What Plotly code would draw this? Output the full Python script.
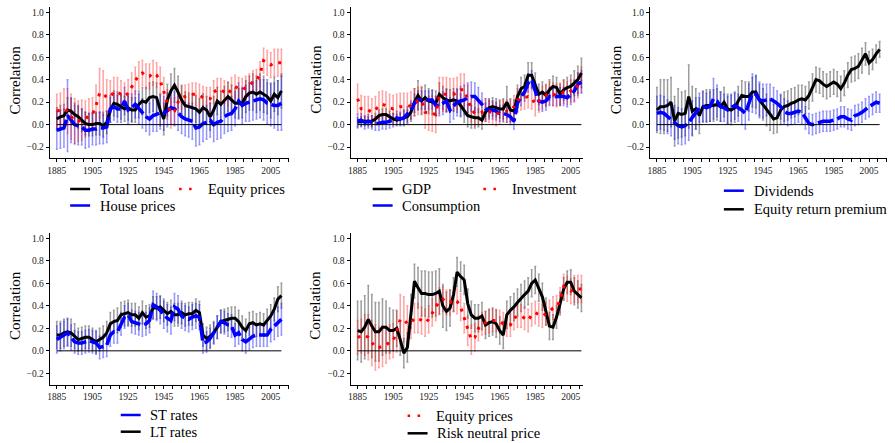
import plotly.graph_objects as go

# Rolling correlations, sampled every second year
YEARS = list(range(1885, 2012, 2))

TOTAL_LOANS = [0.05, 0.07, 0.08, 0.13, 0.12, 0.09, 0.07, 0.04, 0.01, 0.00, 0.00, 0.01, 0.01, -0.01, 0.02,
               0.13, 0.19, 0.18, 0.16, 0.14, 0.15, 0.13, 0.13, 0.18, 0.21, 0.20, 0.24, 0.25, 0.24, 0.13,
               0.05, 0.22, 0.30, 0.35, 0.29, 0.22, 0.17, 0.16, 0.15, 0.14, 0.11, 0.15, 0.13, 0.07, 0.13,
               0.21, 0.18, 0.22, 0.25, 0.22, 0.19, 0.19, 0.19, 0.25, 0.28, 0.29, 0.27, 0.29, 0.27, 0.25,
               0.21, 0.27, 0.24, 0.30]
TOTAL_LOANS_ERR = [0.10, 0.10, 0.10, 0.11, 0.11, 0.10, 0.10, 0.10, 0.10, 0.10, 0.10, 0.10, 0.10, 0.10, 0.10,
                   0.11, 0.11, 0.11, 0.11, 0.11, 0.11, 0.11, 0.11, 0.12, 0.12, 0.13, 0.13, 0.13, 0.13, 0.14,
                   0.14, 0.14, 0.15, 0.15, 0.14, 0.13, 0.12, 0.12, 0.12, 0.12, 0.12, 0.12, 0.12, 0.12, 0.12,
                   0.12, 0.12, 0.12, 0.13, 0.13, 0.13, 0.13, 0.13, 0.14, 0.15, 0.16, 0.16, 0.16, 0.16, 0.15,
                   0.15, 0.15, 0.15, 0.15]

EQUITY_PRICES = [0.12, 0.13, 0.14, 0.12, 0.07, 0.03, 0.03, 0.04, 0.05, 0.08, 0.09, 0.17, 0.28, 0.28, 0.24,
                 0.25, 0.29, 0.29, 0.27, 0.25, 0.28, 0.34, 0.39, 0.44, 0.46, 0.43, 0.43, 0.46, 0.44, 0.39,
                 0.29, 0.18, 0.10, 0.12, 0.20, 0.24, 0.25, 0.26, 0.27, 0.27, 0.26, 0.24, 0.23, 0.23, 0.29,
                 0.31, 0.31, 0.29, 0.27, 0.32, 0.34, 0.32, 0.31, 0.33, 0.35, 0.38, 0.39, 0.45, 0.57, 0.55,
                 0.53, 0.55, 0.55, 0.55]
EQUITY_PRICES_ERR = [0.15, 0.15, 0.18, 0.20, 0.20, 0.20, 0.18, 0.18, 0.16, 0.15, 0.15, 0.18, 0.22, 0.20, 0.16,
                     0.14, 0.13, 0.13, 0.12, 0.12, 0.12, 0.12, 0.12, 0.12, 0.11, 0.11, 0.11, 0.11, 0.11, 0.12,
                     0.13, 0.13, 0.13, 0.12, 0.11, 0.10, 0.10, 0.10, 0.10, 0.10, 0.10, 0.10, 0.10, 0.10, 0.10,
                     0.10, 0.10, 0.10, 0.10, 0.10, 0.10, 0.10, 0.10, 0.10, 0.10, 0.10, 0.10, 0.11, 0.11, 0.11,
                     0.11, 0.12, 0.12, 0.12]

HOUSE_PRICES = [-0.05, -0.04, -0.03, 0.08, 0.04, 0.00, -0.01, -0.02, -0.05, -0.05, -0.04, -0.04, -0.03, -0.03, -0.02,
                0.14, 0.16, 0.14, 0.14, 0.21, 0.13, 0.15, 0.18, 0.14, 0.10, 0.07, 0.05, 0.08, 0.09, 0.11,
                0.10, 0.13, 0.15, 0.14, 0.10, 0.07, 0.05, 0.04, 0.03, -0.03, -0.02, 0.01, 0.02, 0.04, 0.00,
                0.02, 0.03, 0.07, 0.09, 0.10, 0.14, 0.21, 0.17, 0.19, 0.20, 0.21, 0.22, 0.23, 0.22, 0.19,
                0.18, 0.17, 0.17, 0.19]
HOUSE_PRICES_ERR = [0.17, 0.17, 0.17, 0.32, 0.20, 0.17, 0.17, 0.16, 0.16, 0.15, 0.14, 0.14, 0.14, 0.14, 0.14,
                    0.12, 0.12, 0.12, 0.12, 0.12, 0.12, 0.12, 0.12, 0.13, 0.13, 0.13, 0.14, 0.14, 0.15, 0.15,
                    0.15, 0.15, 0.15, 0.15, 0.15, 0.15, 0.15, 0.15, 0.16, 0.16, 0.16, 0.16, 0.15, 0.15, 0.15,
                    0.15, 0.15, 0.15, 0.15, 0.15, 0.15, 0.16, 0.16, 0.16, 0.17, 0.17, 0.17, 0.17, 0.18, 0.18,
                    0.19, 0.20, 0.22, 0.24]

GDP = [0.02, 0.03, 0.03, 0.03, 0.03, 0.05, 0.08, 0.09, 0.09, 0.07, 0.05, 0.04, 0.05, 0.06, 0.07,
       0.11, 0.20, 0.26, 0.21, 0.24, 0.21, 0.20, 0.19, 0.27, 0.24, 0.22, 0.21, 0.22, 0.21, 0.17,
       0.12, 0.08, 0.07, 0.06, 0.06, 0.04, 0.11, 0.15, 0.16, 0.15, 0.14, 0.14, 0.20, 0.13, 0.12,
       0.25, 0.32, 0.34, 0.44, 0.44, 0.36, 0.27, 0.29, 0.26, 0.31, 0.34, 0.33, 0.27, 0.31, 0.33,
       0.34, 0.37, 0.40, 0.46]
GDP_ERR = [0.04, 0.04, 0.04, 0.04, 0.05, 0.05, 0.05, 0.05, 0.05, 0.05, 0.05, 0.05, 0.05, 0.06, 0.06,
           0.08, 0.12, 0.13, 0.12, 0.11, 0.11, 0.11, 0.11, 0.10, 0.10, 0.10, 0.10, 0.10, 0.10, 0.10,
           0.10, 0.10, 0.10, 0.09, 0.08, 0.08, 0.08, 0.08, 0.08, 0.08, 0.08, 0.09, 0.14, 0.10, 0.10,
           0.10, 0.10, 0.10, 0.11, 0.11, 0.10, 0.09, 0.09, 0.09, 0.09, 0.09, 0.09, 0.09, 0.09, 0.09,
           0.10, 0.11, 0.12, 0.13]

CONSUMPTION = [0.03, 0.04, 0.02, 0.03, 0.02, 0.01, 0.01, 0.02, 0.02, 0.03, 0.04, 0.06, 0.05, 0.06, 0.09,
               0.13, 0.19, 0.22, 0.22, 0.22, 0.22, 0.22, 0.17, 0.17, 0.19, 0.21, 0.13, 0.17, 0.20, 0.21,
               0.22, 0.24, 0.25, 0.25, 0.22, 0.18, 0.14, 0.13, 0.13, 0.12, 0.10, 0.10, 0.09, 0.07, 0.03,
               0.19, 0.25, 0.29, 0.37, 0.40, 0.30, 0.21, 0.20, 0.21, 0.25, 0.25, 0.25, 0.25, 0.25, 0.24,
               0.27, 0.30, 0.36, 0.38]
CONSUMPTION_ERR = [0.06, 0.06, 0.06, 0.06, 0.06, 0.06, 0.06, 0.06, 0.06, 0.06, 0.06, 0.06, 0.06, 0.07, 0.07,
                   0.08, 0.08, 0.08, 0.08, 0.08, 0.08, 0.08, 0.08, 0.09, 0.10, 0.10, 0.11, 0.12, 0.12, 0.13,
                   0.13, 0.13, 0.13, 0.12, 0.11, 0.10, 0.09, 0.08, 0.08, 0.08, 0.07, 0.07, 0.07, 0.07, 0.07,
                   0.08, 0.08, 0.08, 0.08, 0.08, 0.08, 0.08, 0.08, 0.08, 0.08, 0.08, 0.08, 0.08, 0.08, 0.08,
                   0.09, 0.09, 0.10, 0.10]

INVESTMENT = [0.23, 0.14, 0.13, 0.13, 0.11, 0.13, 0.17, 0.18, 0.17, 0.15, 0.14, 0.15, 0.16, 0.16, 0.16,
              0.17, 0.20, 0.21, 0.22, 0.11, 0.10, 0.10, 0.09, 0.26, 0.27, 0.27, 0.27, 0.27, 0.28, 0.31,
              0.31, 0.22, 0.14, 0.10, 0.10, 0.11, 0.13, 0.12, 0.10, 0.09, 0.11, 0.12, 0.12, 0.12, 0.16,
              0.22, 0.23, 0.24, 0.25, 0.24, 0.18, 0.21, 0.24, 0.26, 0.28, 0.27, 0.26, 0.27, 0.29, 0.28,
              0.30, 0.30, 0.35, 0.40]
INVESTMENT_ERR = [0.13, 0.12, 0.12, 0.12, 0.12, 0.12, 0.12, 0.12, 0.12, 0.12, 0.12, 0.12, 0.12, 0.12, 0.12,
                  0.12, 0.12, 0.12, 0.12, 0.14, 0.15, 0.16, 0.16, 0.16, 0.15, 0.15, 0.14, 0.14, 0.14, 0.14,
                  0.14, 0.13, 0.12, 0.11, 0.10, 0.10, 0.10, 0.10, 0.10, 0.10, 0.10, 0.10, 0.10, 0.10, 0.10,
                  0.10, 0.10, 0.10, 0.10, 0.10, 0.10, 0.10, 0.10, 0.10, 0.10, 0.10, 0.10, 0.10, 0.10, 0.10,
                  0.10, 0.10, 0.11, 0.11]

DIVIDENDS = [0.10, 0.11, 0.10, 0.07, 0.05, 0.02, -0.01, -0.02, -0.01, 0.02, 0.06, 0.10, 0.15, 0.16, 0.15,
             0.16, 0.23, 0.21, 0.16, 0.15, 0.13, 0.15, 0.17, 0.15, 0.13, 0.10, 0.20, 0.28, 0.27, 0.22,
             0.21, 0.22, 0.23, 0.21, 0.19, 0.16, 0.12, 0.10, 0.10, 0.11, 0.12, 0.11, 0.06, 0.01, 0.00,
             0.01, 0.02, 0.03, 0.03, 0.03, 0.04, 0.05, 0.07, 0.07, 0.05, 0.04, 0.08, 0.09, 0.11, 0.14,
             0.16, 0.18, 0.20, 0.19]
DIVIDENDS_ERR = [0.15, 0.15, 0.15, 0.15, 0.15, 0.15, 0.16, 0.16, 0.16, 0.16, 0.15, 0.14, 0.13, 0.13, 0.13,
                 0.13, 0.18, 0.14, 0.13, 0.12, 0.12, 0.12, 0.12, 0.12, 0.13, 0.14, 0.16, 0.17, 0.17, 0.16,
                 0.15, 0.14, 0.13, 0.12, 0.11, 0.11, 0.11, 0.11, 0.10, 0.10, 0.10, 0.10, 0.10, 0.09, 0.09,
                 0.09, 0.09, 0.09, 0.09, 0.09, 0.09, 0.09, 0.09, 0.09, 0.09, 0.09, 0.09, 0.09, 0.09, 0.09,
                 0.09, 0.09, 0.09, 0.08]

EQUITY_PREMIUM = [0.13, 0.16, 0.16, 0.17, 0.20, 0.03, 0.10, 0.09, 0.10, 0.25, 0.12, 0.14, 0.08, 0.16, 0.17,
                  0.17, 0.17, 0.18, 0.16, 0.20, 0.14, 0.13, 0.15, 0.21, 0.26, 0.25, 0.25, 0.29, 0.29, 0.22,
                  0.18, 0.13, 0.09, 0.05, 0.06, 0.13, 0.16, 0.17, 0.19, 0.20, 0.22, 0.23, 0.22, 0.26, 0.33,
                  0.40, 0.39, 0.36, 0.34, 0.36, 0.38, 0.36, 0.32, 0.37, 0.44, 0.49, 0.50, 0.52, 0.57, 0.63,
                  0.55, 0.58, 0.63, 0.67]
EQUITY_PREMIUM_ERR = [0.20, 0.24, 0.24, 0.23, 0.22, 0.22, 0.22, 0.20, 0.20, 0.28, 0.22, 0.18, 0.16, 0.14, 0.14,
                      0.14, 0.14, 0.14, 0.13, 0.13, 0.13, 0.13, 0.13, 0.13, 0.13, 0.13, 0.13, 0.13, 0.14, 0.14,
                      0.14, 0.14, 0.14, 0.13, 0.13, 0.13, 0.13, 0.13, 0.13, 0.13, 0.13, 0.12, 0.12, 0.12, 0.12,
                      0.11, 0.11, 0.11, 0.11, 0.11, 0.11, 0.11, 0.11, 0.11, 0.11, 0.11, 0.11, 0.11, 0.11, 0.10,
                      0.10, 0.09, 0.08, 0.07]

ST_RATES = [0.10, 0.12, 0.14, 0.16, 0.12, 0.08, 0.07, 0.07, 0.08, 0.09, 0.08, 0.07, 0.03, 0.04, 0.05,
            0.14, 0.17, 0.17, 0.24, 0.30, 0.32, 0.26, 0.25, 0.24, 0.23, 0.24, 0.27, 0.41, 0.39, 0.36,
            0.32, 0.29, 0.27, 0.39, 0.37, 0.31, 0.29, 0.28, 0.30, 0.31, 0.30, 0.07, 0.08, 0.11, 0.16,
            0.21, 0.26, 0.25, 0.23, 0.22, 0.14, 0.16, 0.10, 0.08, 0.11, 0.13, 0.14, 0.14, 0.14, 0.14,
            0.19, 0.22, 0.26, 0.28]
ST_RATES_ERR = [0.12, 0.12, 0.12, 0.12, 0.11, 0.10, 0.10, 0.10, 0.10, 0.10, 0.10, 0.10, 0.10, 0.10, 0.10,
                0.10, 0.10, 0.10, 0.10, 0.10, 0.10, 0.10, 0.10, 0.10, 0.10, 0.10, 0.11, 0.12, 0.12, 0.12,
                0.12, 0.12, 0.12, 0.12, 0.12, 0.11, 0.11, 0.11, 0.11, 0.11, 0.11, 0.09, 0.09, 0.09, 0.09,
                0.10, 0.10, 0.10, 0.10, 0.10, 0.10, 0.10, 0.10, 0.10, 0.10, 0.10, 0.10, 0.10, 0.10, 0.10,
                0.11, 0.12, 0.13, 0.14]

LT_RATES = [0.14, 0.14, 0.16, 0.17, 0.16, 0.13, 0.10, 0.11, 0.12, 0.12, 0.10, 0.08, 0.10, 0.12, 0.16,
            0.24, 0.26, 0.27, 0.32, 0.33, 0.34, 0.32, 0.32, 0.29, 0.34, 0.30, 0.31, 0.38, 0.38, 0.39,
            0.36, 0.33, 0.35, 0.32, 0.32, 0.34, 0.32, 0.33, 0.33, 0.36, 0.34, 0.14, 0.11, 0.13, 0.16,
            0.21, 0.26, 0.27, 0.28, 0.29, 0.29, 0.26, 0.21, 0.18, 0.24, 0.25, 0.23, 0.24, 0.23, 0.27,
            0.31, 0.37, 0.46, 0.49]
LT_RATES_ERR = [0.12, 0.12, 0.12, 0.12, 0.12, 0.11, 0.10, 0.10, 0.10, 0.10, 0.10, 0.10, 0.10, 0.10, 0.10,
                0.10, 0.10, 0.11, 0.11, 0.11, 0.11, 0.10, 0.10, 0.10, 0.10, 0.10, 0.10, 0.10, 0.10, 0.10,
                0.10, 0.10, 0.10, 0.10, 0.10, 0.10, 0.10, 0.10, 0.10, 0.10, 0.10, 0.10, 0.10, 0.10, 0.10,
                0.10, 0.10, 0.10, 0.10, 0.10, 0.10, 0.10, 0.10, 0.10, 0.10, 0.10, 0.10, 0.10, 0.10, 0.10,
                0.10, 0.10, 0.11, 0.11]

RISK_NEUTRAL = [0.18, 0.17, 0.21, 0.28, 0.22, 0.17, 0.17, 0.21, 0.21, 0.18, 0.18, 0.20, 0.10, -0.02, 0.03,
                0.35, 0.62, 0.56, 0.51, 0.51, 0.50, 0.50, 0.51, 0.53, 0.40, 0.35, 0.38, 0.50, 0.70, 0.66,
                0.63, 0.42, 0.32, 0.29, 0.29, 0.31, 0.23, 0.25, 0.26, 0.24, 0.18, 0.14, 0.32, 0.36, 0.39,
                0.43, 0.47, 0.50, 0.53, 0.60, 0.63, 0.56, 0.48, 0.35, 0.22, 0.21, 0.30, 0.42, 0.55, 0.61,
                0.61, 0.53, 0.50, 0.47]
RISK_NEUTRAL_ERR = [0.26, 0.27, 0.28, 0.30, 0.28, 0.26, 0.26, 0.25, 0.23, 0.20, 0.18, 0.16, 0.14, 0.13, 0.13,
                    0.15, 0.15, 0.18, 0.20, 0.20, 0.20, 0.20, 0.20, 0.20, 0.19, 0.17, 0.16, 0.15, 0.13, 0.13,
                    0.13, 0.13, 0.12, 0.12, 0.12, 0.12, 0.12, 0.12, 0.12, 0.12, 0.12, 0.12, 0.12, 0.12, 0.12,
                    0.12, 0.12, 0.12, 0.12, 0.12, 0.12, 0.12, 0.12, 0.12, 0.12, 0.11, 0.10, 0.10, 0.10, 0.10,
                    0.11, 0.12, 0.12, 0.12]

FONT = "Liberation Serif"
W, H = 895, 443

LINE_STYLE = {
    "black": dict(color="#000000", width=3),
    "blue": dict(color="#0000ff", width=3.5, dash="16px,4px"),
    "red": dict(color="#ff0000", width=3, dash="3px,6px"),
}
KEY_STYLE = {
    "black": dict(color="#000000", width=2.5),
    "blue": dict(color="#0000ff", width=2.5),
    "red": dict(color="#ff0000", width=2.5, dash="2.5px,7.5px"),
}
ERR_COLOR = {
    "black": "rgba(60,60,60,0.5)",
    "blue": "rgba(0,0,255,0.42)",
    "red": "rgba(255,0,0,0.36)",
}

# panel geometry in pixels: x extent of the axis, y extent, last year of x range / last tick
PANELS = [
    dict(n=1, xpx=(47.8, 287.2), ypx=(6.7, 158.3), xmax=2015, tickmax=2015,
         series=[("Total loans", TOTAL_LOANS, TOTAL_LOANS_ERR, "black"),
                 ("House prices", HOUSE_PRICES, HOUSE_PRICES_ERR, "blue"),
                 ("Equity prices", EQUITY_PRICES, EQUITY_PRICES_ERR, "red")],
         legend=[("Total loans", "black", 68.3, 189.0), ("Equity prices", "red", 177.5, 189.0),
                 ("House prices", "blue", 68.3, 205.5)],
         ytitle=(13, 79.5)),
    dict(n=2, xpx=(349.3, 582.5), ypx=(6.7, 158.3), xmax=2012, tickmax=2010,
         series=[("GDP", GDP, GDP_ERR, "black"),
                 ("Consumption", CONSUMPTION, CONSUMPTION_ERR, "blue"),
                 ("Investment", INVESTMENT, INVESTMENT_ERR, "red")],
         legend=[("GDP", "black", 371.5, 189.0), ("Investment", "red", 482.5, 189.0),
                 ("Consumption", "blue", 371.5, 205.5)],
         ytitle=(314, 79.5)),
    dict(n=3, xpx=(649.3, 886.7), ypx=(6.7, 158.3), xmax=2015, tickmax=2015,
         series=[("Equity return premium", EQUITY_PREMIUM, EQUITY_PREMIUM_ERR, "black"),
                 ("Dividends", DIVIDENDS, DIVIDENDS_ERR, "blue")],
         legend=[("Dividends", "blue", 723.5, 190.7), ("Equity return premium", "black", 723.5, 209.3)],
         ytitle=(615, 79.5)),
    dict(n=4, xpx=(47.8, 287.2), ypx=(232.7, 384.6), xmax=2015, tickmax=2015,
         series=[("LT rates", LT_RATES, LT_RATES_ERR, "black"),
                 ("ST rates", ST_RATES, ST_RATES_ERR, "blue")],
         legend=[("ST rates", "blue", 119.0, 415), ("LT rates", "black", 119.0, 431.7)],
         ytitle=(13, 305)),
    dict(n=5, xpx=(349.3, 582.5), ypx=(232.7, 384.6), xmax=2012, tickmax=2010,
         series=[("Risk neutral price", RISK_NEUTRAL, RISK_NEUTRAL_ERR, "black"),
                 ("Equity prices", EQUITY_PRICES, EQUITY_PRICES_ERR, "red")],
         legend=[("Equity prices", "red", 406.5, 415.7), ("Risk neutral price", "black", 406.5, 433.3)],
         ytitle=(313.5, 305)),
]

for p in PANELS:
    for _, vals, errs, _ in p["series"]:
        assert len(vals) == len(YEARS) and len(errs) == len(YEARS)

fig = go.Figure()
layout = dict(width=W, height=H, margin=dict(l=0, r=0, t=0, b=0), autosize=False,
              paper_bgcolor="white", plot_bgcolor="white", showlegend=False,
              font=dict(family=FONT, color="#000000"))
shapes, annotations = [], []

YTICKS = [-0.2, 0.0, 0.2, 0.4, 0.6, 0.8, 1.0]
YTICKTEXT = ["\u22120.2", "0.0", "0.2", "0.4", "0.6", "0.8", "1.0"]


def px_x(x):
    return x / W


def px_y(y):
    return 1 - y / H


for p in PANELS:
    n = p["n"]
    xa, ya = ("x" if n == 1 else f"x{n}"), ("y" if n == 1 else f"y{n}")
    xkey, ykey = ("xaxis" if n == 1 else f"xaxis{n}"), ("yaxis" if n == 1 else f"yaxis{n}")
    xt = list(range(1885, p["tickmax"] + 1, 5))
    layout[xkey] = dict(
        domain=[px_x(p["xpx"][0]), px_x(p["xpx"][1])], range=[1881, p["xmax"]], anchor=ya,
        showline=True, linecolor="#000000", linewidth=1, showgrid=False, zeroline=False,
        ticks="outside", ticklen=3, tickwidth=1, tickcolor="#000000",
        tickvals=xt, ticktext=[str(t) if (t - 1885) % 20 == 0 else "" for t in xt],
        tickfont=dict(family=FONT, size=9.5, color="#222222"), fixedrange=True)
    layout[ykey] = dict(
        domain=[px_y(p["ypx"][1]), px_y(p["ypx"][0])], range=[-0.3, 1.05], anchor=xa,
        showline=True, linecolor="#000000", linewidth=1, showgrid=False, zeroline=False,
        ticks="outside", ticklen=3, tickwidth=1, tickcolor="#000000",
        tickvals=YTICKS, ticktext=YTICKTEXT,
        tickfont=dict(family=FONT, size=9.5, color="#222222"), fixedrange=True)

    # confidence whiskers first, lines on top
    for name, vals, errs, kind in p["series"]:
        fig.add_trace(go.Scatter(
            x=YEARS, y=vals, xaxis=xa, yaxis=ya, mode="markers",
            marker=dict(size=1, color="rgba(0,0,0,0)"),
            error_y=dict(type="data", array=errs, visible=True, color=ERR_COLOR[kind],
                         thickness=1.5, width=1),
            hoverinfo="skip", showlegend=False))
    for name, vals, errs, kind in p["series"]:
        fig.add_trace(go.Scatter(
            x=YEARS, y=vals, xaxis=xa, yaxis=ya, mode="lines", name=name,
            line=LINE_STYLE[kind], showlegend=False))

    # zero reference line over the sample period
    shapes.append(dict(type="line", xref=xa, yref=ya, x0=YEARS[0], x1=YEARS[-1], y0=0, y1=0,
                       line=dict(color="#000000", width=1)))

    # y axis title
    annotations.append(dict(text="Correlation", xref="paper", yref="paper",
                            x=px_x(p["ytitle"][0]), y=px_y(p["ytitle"][1]),
                            xanchor="center", yanchor="middle", textangle=-90, showarrow=False,
                            font=dict(family=FONT, size=15, color="#000000")))

    # legend keys below the panel
    for label, kind, lx, ly in p["legend"]:
        length = 13 if kind == "red" else 20
        shapes.append(dict(type="line", xref="paper", yref="paper",
                           x0=px_x(lx), x1=px_x(lx + length), y0=px_y(ly), y1=px_y(ly),
                           line=KEY_STYLE[kind]))
        tx = lx + (26.5 if kind == "red" else 27.7)
        annotations.append(dict(text=label, xref="paper", yref="paper",
                                x=px_x(tx), y=px_y(ly), xanchor="left", yanchor="middle",
                                showarrow=False, font=dict(family=FONT, size=14.5, color="#000000")))

layout["shapes"] = shapes
layout["annotations"] = annotations
fig.update_layout(**layout)
fig.write_html("out.html")
